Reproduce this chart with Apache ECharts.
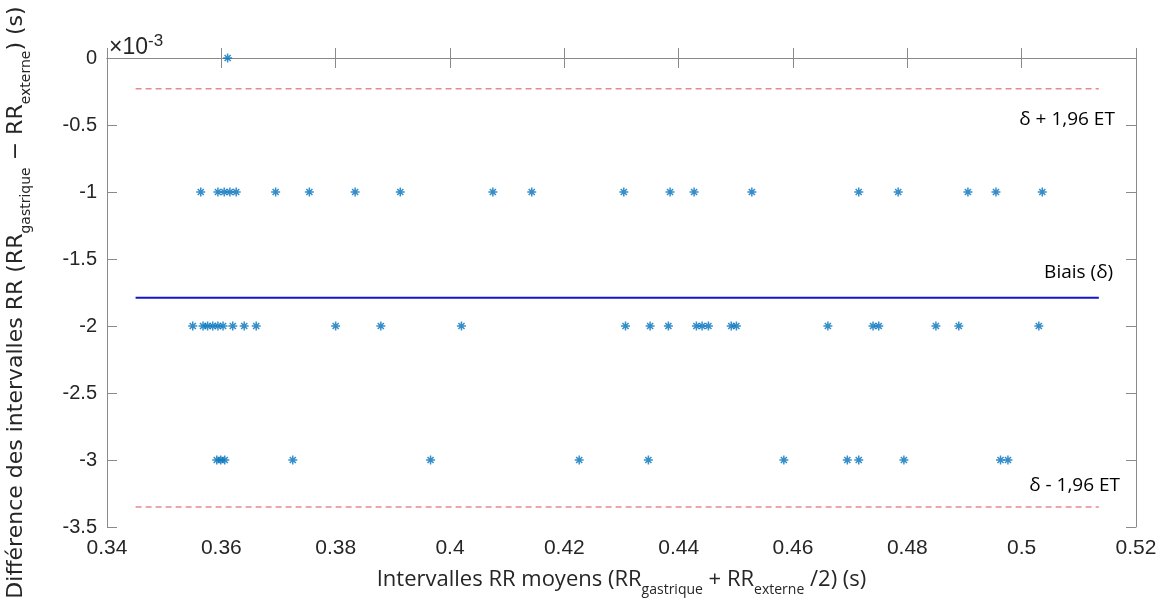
<!DOCTYPE html>
<html><head><meta charset="utf-8">
<script src="https://cdn.jsdelivr.net/npm/echarts@6/dist/echarts.min.js"></script>
<style>html,body{margin:0;padding:0;background:#fff}#c{width:1168px;height:608px}</style>
</head><body><div id="c"></div>
<script>
// Tick values
const xTicks = [0.34, 0.36, 0.38, 0.40, 0.42, 0.44, 0.46, 0.48, 0.50, 0.52];
const yTicks = [0, -0.5, -1, -1.5, -2, -2.5, -3, -3.5];

// Mean RR (s) of points per difference level (×10^-3 s)
const diff0X = [0.3611];
const diffMinus1X = [0.3564, 0.3594, 0.3605, 0.3615, 0.3626, 0.3695, 0.3754, 0.3834, 0.3913, 0.4075,
  0.4143, 0.4304, 0.4385, 0.4427, 0.4528, 0.4715, 0.4784, 0.4906, 0.4955, 0.5036];
const diffMinus2X = [0.3550, 0.3568, 0.3576, 0.3585, 0.3594, 0.3603, 0.3620, 0.3640, 0.3661, 0.3800,
  0.3879, 0.4020, 0.4307, 0.4350, 0.4382, 0.4431, 0.4441, 0.4452, 0.4492, 0.4501,
  0.4661, 0.4740, 0.4750, 0.4850, 0.4890, 0.5030];
const diffMinus3X = [0.3592, 0.3599, 0.3606, 0.3725, 0.3966, 0.4226, 0.4347, 0.4584, 0.4695, 0.4715,
  0.4794, 0.4963, 0.4976];
const diffLevels = [0, -1, -2, -3];

// Bland-Altman lines (×10^-3 s)
const biasValue = -1.79;
const upperLoA = -0.23;
const lowerLoA = -3.35;
const lineExtent = [0.345, 0.5135];

// Annotation texts
const annotations = [
  {text: 'δ + 1,96 ET', x: 0.5163, y: -0.46},
  {text: 'Biais (δ)', x: 0.5160, y: -1.60},
  {text: 'δ - 1,96 ET', x: 0.5172, y: -3.19}
];

const groups = [diff0X, diffMinus1X, diffMinus2X, diffMinus3X];
const points = [];
groups.forEach((g, i) => g.forEach(x => points.push([x, diffLevels[i]])));

const star = 'path://M5 0L5 10M0 5L10 5M1.6 1.6L8.4 8.4M8.4 1.6L1.6 8.4';
const axisCol = '#8a8a8a';
const txt = '#262626';

const chart = echarts.init(document.getElementById('c'), null, {renderer: 'canvas'});
const baseX = {
  type: 'value', min: xTicks[0], max: xTicks[xTicks.length - 1], interval: 0.02,
  axisLine: {show: true, lineStyle: {color: axisCol, width: 1}},
  axisTick: {show: true, inside: true, length: 10, lineStyle: {color: axisCol}},
  splitLine: {show: false}
};
const baseY = {
  type: 'value', min: yTicks[yTicks.length - 1], max: yTicks[0], interval: 0.5,
  axisLine: {show: true, lineStyle: {color: axisCol, width: 1}},
  axisTick: {show: true, inside: true, length: 10, lineStyle: {color: axisCol}},
  splitLine: {show: false}
};
function hline(v, color, width, type) {
  return {
    type: 'line', data: [[lineExtent[0], v], [lineExtent[1], v]], symbol: 'none', silent: true,
    lineStyle: {color: color, width: width, type: type}, z: 1
  };
}
chart.setOption({
  animation: false,
  backgroundColor: '#fff',
  grid: {left: 107, right: 32, top: 58, bottom: 81, containLabel: false, outerBoundsMode: 'none'},
  xAxis: [
    Object.assign({}, baseX, {
      position: 'bottom',
      axisLabel: {show: true, margin: 11, color: txt, fontSize: 21, fontFamily: 'Liberation Sans, sans-serif'},
      name: '{n|Intervalles RR moyens (RR}{s|gastrique}{n| + RR}{s|externe}{n| /2) (s)}',
      nameLocation: 'middle', nameGap: 42, nameMoveOverlap: false,
      nameTextStyle: {
        rich: {
          n: {fontSize: 22, fontFamily: 'Open Sans, sans-serif', color: txt, lineHeight: 28, verticalAlign: 'top'},
          s: {fontSize: 14, fontFamily: 'Open Sans, sans-serif', color: txt, lineHeight: 28, verticalAlign: 'bottom', padding: [15, 0, 0, 0]}
        }
      }
    }),
    Object.assign({}, baseX, {position: 'top', axisLabel: {show: false}})
  ],
  yAxis: [
    Object.assign({}, baseY, {
      position: 'left',
      axisLabel: {show: true, margin: 10, color: txt, fontSize: 20, fontFamily: 'Liberation Sans, sans-serif'},
      name: '{n|Différence des intervalles RR (RR}{s|gastrique}{n| − RR}{s|externe}{n|) (s)}',
      nameLocation: 'middle', nameGap: 74, nameRotate: 90, nameMoveOverlap: false,
      nameTextStyle: {
        padding: [0, 20, 0, 0],
        rich: {
          n: {fontSize: 22, fontFamily: 'DejaVu Sans, sans-serif', color: txt, lineHeight: 28, verticalAlign: 'top'},
          s: {fontSize: 14, fontFamily: 'DejaVu Sans, sans-serif', color: txt, lineHeight: 28, verticalAlign: 'bottom', padding: [14, 0, 0, 0]}
        }
      }
    }),
    Object.assign({}, baseY, {position: 'right', axisLabel: {show: false}})
  ],
  graphic: [{
    type: 'text', left: 109, top: 33,
    style: {
      text: '{a|×10}{b|-3}',
      rich: {
        a: {fontSize: 23, fontFamily: 'Liberation Sans, sans-serif', fill: txt, lineHeight: 26, verticalAlign: 'bottom'},
        b: {fontSize: 17, fontFamily: 'Liberation Sans, sans-serif', fill: txt, lineHeight: 26, verticalAlign: 'top'}
      }
    }
  }],
  series: [
    hline(upperLoA, '#e58a90', 1.5, [6, 4]),
    hline(lowerLoA, '#e58a90', 1.5, [6, 4]),
    hline(biasValue, '#1414cc', 2, 'solid'),
    {
      type: 'scatter', data: points, symbol: star, symbolSize: 9, z: 3,
      itemStyle: {color: '#0072BD', borderColor: '#0072BD', borderWidth: 1.5},
      silent: true
    },
    {
      type: 'scatter', data: annotations.map(a => ({value: [a.x, a.y], name: a.text})),
      symbolSize: 0, silent: true, z: 5,
      label: {show: true, position: 'left', distance: 0, formatter: p => p.name, color: '#000',
        fontSize: 19, fontFamily: 'Open Sans, sans-serif', opacity: 1},
      emphasis: {disabled: true}
    }
  ]
});
</script>
</body></html>
